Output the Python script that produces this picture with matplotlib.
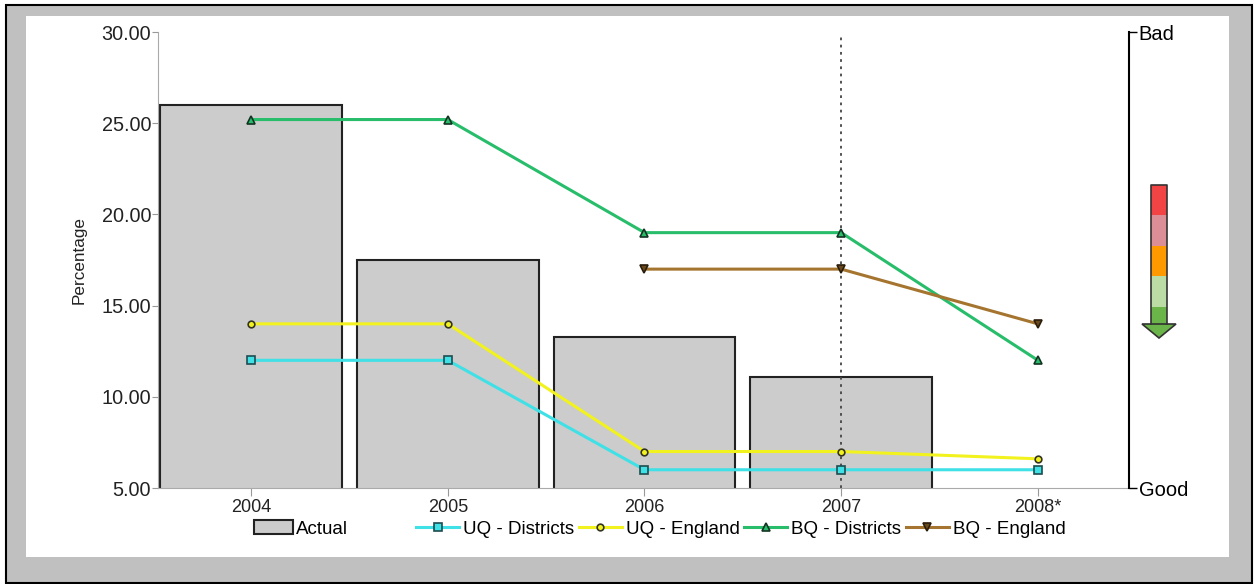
import matplotlib
matplotlib.use("Agg")
import matplotlib.pyplot as plt
from matplotlib.patches import Rectangle, Polygon

plt.rcParams['font.family'] = ['Liberation Sans', 'DejaVu Sans']

years = ["2004", "2005", "2006", "2007", "2008*"]
actual = [26.0, 17.5, 13.3, 11.1]
uq_districts = [12.0, 12.0, 6.0, 6.0, 6.0]
uq_england = [14.0, 14.0, 7.0, 7.0, 6.6]
bq_districts = [25.2, 25.2, 19.0, 19.0, 12.0]
bq_england = [None, None, 17.0, 17.0, 14.0]
yticks = [5, 10, 15, 20, 25, 30]

W, H = 1255, 584
fig = plt.figure(figsize=(W / 100, H / 100), dpi=100)
fig.patch.set_facecolor("white")

# outer frame: gray band and white panel
fig.patches.append(Rectangle((6 / W, 1 - 583 / H), 1246 / W, 578 / H, transform=fig.transFigure,
                             facecolor="#c0c0c0", edgecolor="black", lw=1.5, zorder=-2))
fig.patches.append(Rectangle((26 / W, 1 - 557 / H), 1203 / W, 541 / H, transform=fig.transFigure,
                             facecolor="white", edgecolor="none", zorder=-1))

ax = fig.add_axes([158 / W, 1 - 488 / H, 971 / W, 456 / H])
ax.set_facecolor("none")
x = list(range(len(years)))

ax.bar(x[:len(actual)], actual, width=0.925, bottom=0, color="#cccccc",
       edgecolor="#222222", linewidth=1.5, zorder=1, label="Actual")
ax.axvline(3, ymax=0.993, color="#444444", linestyle=(0, (1.5, 2.5)), lw=1.3, zorder=2)

l1, = ax.plot(x, uq_districts, color="#3fe0e6", lw=2.2, marker="s", markersize=5.8,
              markerfacecolor="#3fe0e6", markeredgecolor="#1d4d50", markeredgewidth=1.2, zorder=3)
l2, = ax.plot(x, uq_england, color="#f2f21e", lw=2.2, marker="o", markersize=4.8,
              markerfacecolor="#f2f21e", markeredgecolor="#333322", markeredgewidth=1.2, zorder=3)
l3, = ax.plot(x, bq_districts, color="#27bd6a", lw=2.2, marker="^", markersize=6.3,
              markerfacecolor="#27bd6a", markeredgecolor="#143322", markeredgewidth=1.2, zorder=3)
bx = [i for i, v in zip(x, bq_england) if v is not None]
bv = [v for v in bq_england if v is not None]
l4, = ax.plot(bx, bv, color="#a5752f", lw=2.2, marker="v", markersize=6.3,
              markerfacecolor="#6a4a1e", markeredgecolor="#2a1d0a", markeredgewidth=1.2, zorder=3)

ax.set_xlim(-0.473, 4.463)
ax.set_ylim(5, 30)
ax.set_xticks(x)
ax.set_xticklabels(years)
ax.set_yticks(yticks)
ax.set_yticklabels(["%.2f" % v for v in yticks])
ax.tick_params(axis="both", colors="#999999", labelcolor="#222222", labelsize=13, length=4)
ax.tick_params(axis="x", length=6, pad=2)
ax.tick_params(axis="y", pad=1, labelsize=14.3)
for s in ["top", "right"]:
    ax.spines[s].set_visible(False)
for s in ["left", "bottom"]:
    ax.spines[s].set_color("#aaaaaa")
ax.set_ylabel("Percentage", fontsize=12.3, color="#222222", labelpad=11)

# right good/bad scale
ax2 = ax.twinx()
ax2.set_ylim(0, 1)
ax2.set_yticks([0, 1])
ax2.set_yticklabels(["Good", "Bad"])
ax2.tick_params(axis="y", colors="black", labelsize=14.5, length=6, width=1, pad=1)
for s in ["top", "left", "bottom"]:
    ax2.spines[s].set_visible(False)
ax2.spines["right"].set_color("black")
ax2.spines["right"].set_linewidth(1.5)

# colour arrow
aa = fig.add_axes([1142 / W, 1 - 338 / H, 34 / W, 153 / H])
aa.set_xlim(1142, 1176)
aa.set_ylim(338, 185)
aa.axis("off")
seg_cols = ["#f24444", "#dc8e96", "#ff9900", "#bcdca6", "#6ab449"]
seg_edges = [185, 215, 246, 276, 307, 325]
for c, y0, y1 in zip(seg_cols, seg_edges[:-1], seg_edges[1:]):
    aa.add_patch(Rectangle((1151, y0), 16, y1 - y0, facecolor=c, edgecolor="none"))
aa.add_patch(Polygon([(1142, 324), (1176, 324), (1159, 338)], closed=True,
                     facecolor="#6ab449", edgecolor="#333333", lw=1.2, clip_on=False))
aa.plot([1151, 1151, 1167, 1167], [324, 185, 185, 324], color="#333333", lw=1.2, clip_on=False)

# legends
h0 = Rectangle((0, 0), 1, 1, facecolor="#cccccc", edgecolor="#222222", lw=1.5)
fig.legend([h0], ["Actual"], loc="center left", bbox_to_anchor=(254 / W, 1 - 529 / H),
           frameon=False, fontsize=13.5, borderpad=0, borderaxespad=0,
           handlelength=2.1, handleheight=0.7, handletextpad=0.15)
fig.legend([l1, l2, l3, l4], ["UQ - Districts", "UQ - England", "BQ - Districts", "BQ - England"],
           loc="center left", bbox_to_anchor=(416 / W, 1 - 529 / H), ncol=4,
           frameon=False, fontsize=13.5, borderpad=0, borderaxespad=0,
           handlelength=2.3, handletextpad=0.2, columnspacing=0.25)

fig.savefig("out.png", dpi=100)
